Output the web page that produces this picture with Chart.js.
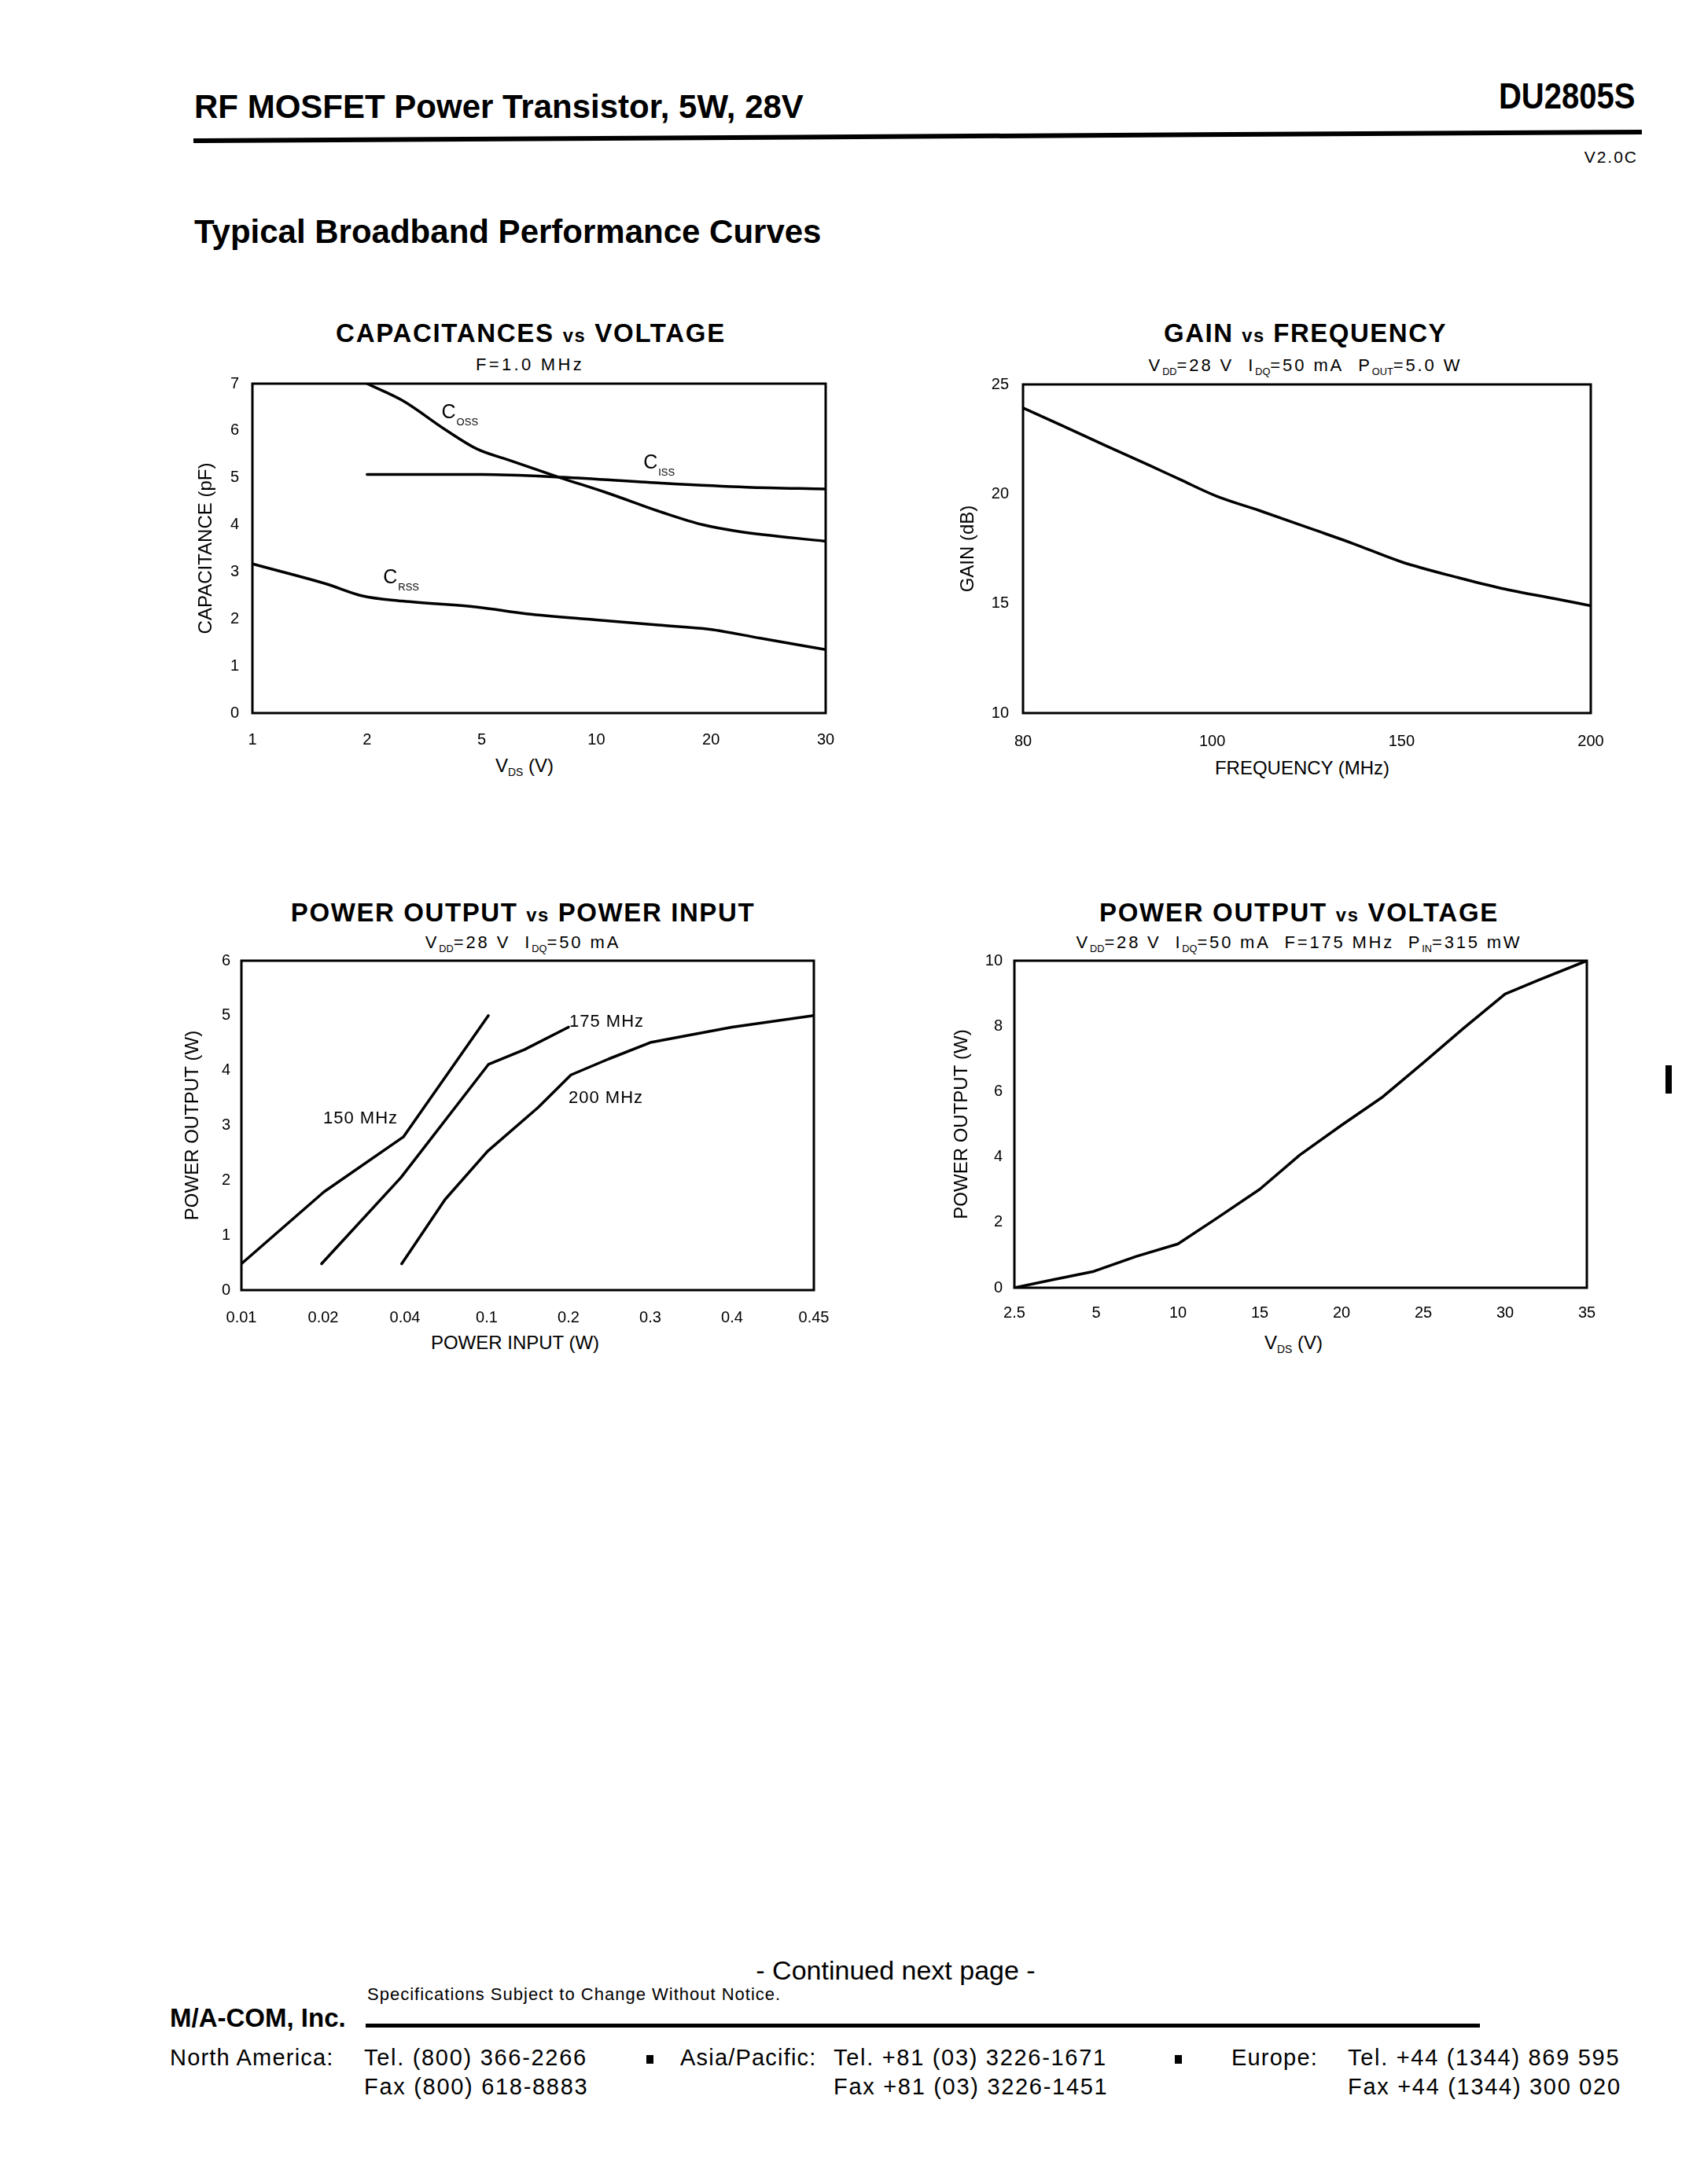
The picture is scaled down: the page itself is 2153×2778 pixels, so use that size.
<!DOCTYPE html>
<html><head><meta charset="utf-8">
<script src="https://cdn.jsdelivr.net/npm/chart.js@4"></script>
<style>
html,body{margin:0;padding:0;background:#fff;}
body{width:2153px;height:2778px;position:relative;overflow:hidden;font-family:'Liberation Sans',Arial,sans-serif;color:#000;}
.t{position:absolute;white-space:nowrap;line-height:1;}
.t sub{font-size:0.58em;vertical-align:baseline;position:relative;top:0.38em;line-height:0;letter-spacing:0;}
.vs{font-size:0.72em;}
canvas{position:absolute;}
.bar{position:absolute;background:#000;}
</style></head><body>
<script>
// ---------------- DATA ----------------
// Capacitances vs Voltage (x in tick-index units of the evenly spaced axis 1,2,5,10,20,30)
const capXTicks = ['1','2','5','10','20','30'];
const cossX = [1.0, 1.31, 1.69, 1.96, 2.23, 2.70, 3.08, 3.58, 3.93, 4.24, 5.0];
const cossY = [7.0, 6.64, 6.01, 5.61, 5.38, 4.99, 4.69, 4.26, 4.0, 3.86, 3.65];
const cissX = [1.0, 2.0, 2.70, 3.54, 4.31, 5.0];
const cissY = [5.07, 5.07, 5.01, 4.89, 4.80, 4.76];
const crssX = [0, 0.31, 0.65, 0.96, 1.31, 1.96, 2.39, 3.0, 3.54, 3.99, 4.43, 5.0];
const crssY = [3.17, 2.97, 2.74, 2.49, 2.38, 2.25, 2.11, 1.98, 1.87, 1.78, 1.59, 1.35];

// Gain vs Frequency (axis 80,100,150,200 evenly spaced)
const gainXTicks = ['80','100','150','200'];
const gainX = [0, 0.2, 0.43, 0.67, 0.83, 1.02, 1.25, 1.53, 1.74, 2.0, 2.3, 2.53, 2.81, 3.0];
const gainY = [23.93, 23.15, 22.23, 21.3, 20.66, 19.91, 19.24, 18.39, 17.75, 16.9, 16.18, 15.69, 15.22, 14.9];

// Power output vs Power input (axis 0.01 ... 0.45 evenly spaced)
const pinXTicks = ['0.01','0.02','0.04','0.1','0.2','0.3','0.4','0.45'];
const p150X = [0, 1.01, 1.98, 3.02];
const p150Y = [0.48, 1.79, 2.79, 5.0];
const p175X = [0.98, 1.95, 3.02, 3.46, 4.0];
const p175Y = [0.48, 2.05, 4.11, 4.38, 4.79];
const p200X = [1.96, 2.49, 3.01, 3.63, 4.03, 4.49, 5.0, 5.46, 6.0, 7.0];
const p200Y = [0.48, 1.65, 2.53, 3.33, 3.92, 4.21, 4.51, 4.64, 4.79, 5.0];

// Power output vs Voltage (axis 2.5,5,...,35 evenly spaced)
const vdsXTicks = ['2.5','5','10','15','20','25','30','35'];
const voutX = [0, 0.46, 0.97, 1.49, 2.0, 2.46, 3.0, 3.49, 4.0, 4.49, 5.0, 5.49, 6.0, 6.41, 7.0];
const voutY = [0, 0.24, 0.5, 0.96, 1.34, 2.1, 3.01, 4.06, 4.97, 5.81, 6.88, 7.93, 8.98, 9.41, 10.0];

// curve label texts
const capLabelText = ['C','C','C'];
const capLabelSub = ['OSS','ISS','RSS'];
const pinLabelText = ['150 MHz','175 MHz','200 MHz'];
</script>
<script>
const FAMILY = "'Liberation Sans', Arial, Helvetica, sans-serif";
Chart.defaults.font.family = FAMILY;
Chart.defaults.color = '#000';

function T(html, x, base, size, o = {}) {
  const d = document.createElement('div');
  d.className = 't';
  d.innerHTML = html;
  d.style.fontSize = size + 'px';
  d.style.top = (base - 0.8465 * size) + 'px';
  if (o.bold) d.style.fontWeight = 'bold';
  if (o.ls) d.style.letterSpacing = o.ls + 'px';
  let tf = '';
  if (o.align === 'center') { d.style.left = x + 'px'; tf += 'translateX(-50%) '; }
  else if (o.align === 'right') { d.style.right = (2153 - x) + 'px'; }
  else d.style.left = x + 'px';
  if (o.sx) { tf += 'scaleX(' + o.sx + ')'; d.style.transformOrigin = o.align === 'right' ? 'right center' : 'left center'; }
  if (tf) d.style.transform = tf;
  document.body.appendChild(d);
  return d;
}
function bar(l, t, w, h, rot) {
  const d = document.createElement('div');
  d.className = 'bar';
  d.style.left = l + 'px'; d.style.top = t + 'px'; d.style.width = w + 'px'; d.style.height = h + 'px';
  if (rot) { d.style.transformOrigin = 'left center'; d.style.transform = 'rotate(' + rot + 'deg)'; }
  document.body.appendChild(d);
}

// ---------- page header ----------
T('RF MOSFET Power Transistor, 5W, 28V', 247, 151, 42, {bold: true});
T('DU2805S', 2079, 138, 46, {bold: true, align: 'right', sx: 0.87});
bar(246, 175.5, 1842, 6, -0.3425);
T('V2.0C', 2083, 207, 21, {align: 'right', ls: 2});
T('Typical Broadband Performance Curves', 247, 310, 42, {bold: true});

// ---------- chart titles ----------
T('CAPACITANCES <span class="vs">vs</span> VOLTAGE', 675, 435, 33, {bold: true, align: 'center', ls: 1.7});
T('F=1.0 MHz', 674, 472, 22, {align: 'center', ls: 3.3});
T('GAIN <span class="vs">vs</span> FREQUENCY', 1660, 435, 33, {bold: true, align: 'center', ls: 1.5});
T('V<sub>DD</sub>=28 V&nbsp; I<sub>DQ</sub>=50 mA&nbsp; P<sub>OUT</sub>=5.0 W', 1660, 473, 22, {align: 'center', ls: 2.9});
T('POWER OUTPUT <span class="vs">vs</span> POWER INPUT', 665, 1172, 33, {bold: true, align: 'center', ls: 1.6});
T('V<sub>DD</sub>=28 V&nbsp; I<sub>DQ</sub>=50 mA', 665, 1207, 22, {align: 'center', ls: 2.9});
T('POWER OUTPUT <span class="vs">vs</span> VOLTAGE', 1652, 1172, 33, {bold: true, align: 'center', ls: 1.7});
T('V<sub>DD</sub>=28 V&nbsp; I<sub>DQ</sub>=50 mA&nbsp; F=175 MHz&nbsp; P<sub>IN</sub>=315 mW', 1652, 1207, 22, {align: 'center', ls: 2.8});

// ---------- x-axis titles ----------
T('V<sub>DS</sub> (V)', 667, 982, 24, {align: 'center'});
T('FREQUENCY (MHz)', 1656, 985, 24, {align: 'center'});
T('POWER INPUT (W)', 655, 1716, 24, {align: 'center'});
T('V<sub>DS</sub> (V)', 1645, 1716, 24, {align: 'center'});

// ---------- footer ----------
T('- Continued next page -', 1139, 2518, 34, {align: 'center'});
T('Specifications Subject to Change Without Notice.', 467, 2545, 22, {ls: 1});
T('M/A-COM, Inc.', 216, 2578, 33, {bold: true});
bar(465, 2574, 1417, 5);
T('North America:', 216, 2628, 29, {ls: 1.2});
T('Tel. (800) 366-2266', 463, 2628, 29, {ls: 1.7});
T('Fax (800) 618-8883', 463, 2665, 29, {ls: 1.7});
bar(822, 2614, 9, 11);
T('Asia/Pacific:', 865, 2628, 29, {ls: 1.2});
T('Tel. +81 (03) 3226-1671', 1060, 2628, 29, {ls: 1.7});
T('Fax +81 (03) 3226-1451', 1060, 2665, 29, {ls: 1.7});
bar(1494, 2614, 9, 11);
T('Europe:', 1566, 2628, 29, {ls: 1.2});
T('Tel. +44 (1344) 869 595', 1714, 2628, 29, {ls: 1.7});
T('Fax +44 (1344) 300 020', 1714, 2665, 29, {ls: 1.7});
bar(2118, 1355, 8, 36);

// ---------- chart helpers ----------
const framePlugin = {
  id: 'frame',
  afterDatasetsDraw(chart) {
    const {ctx, chartArea: a} = chart;
    ctx.save();
    ctx.strokeStyle = '#000';
    ctx.lineWidth = 3;
    ctx.strokeRect(a.left, a.top, a.right - a.left, a.bottom - a.top);
    ctx.restore();
  }
};
const labelPlugin = {
  id: 'curveLabels',
  afterDatasetsDraw(chart, args, opts) {
    if (!opts || !opts.items) return;
    const {ctx} = chart;
    const xs = chart.scales.x, ys = chart.scales.y;
    ctx.save();
    ctx.fillStyle = '#000';
    ctx.textBaseline = 'alphabetic';
    ctx.textAlign = 'left';
    for (const it of opts.items) {
      const px = xs.getPixelForValue(it.x), py = ys.getPixelForValue(it.y);
      ctx.font = opts.size + 'px ' + FAMILY;
      if ('letterSpacing' in ctx) ctx.letterSpacing = (opts.ls || 0) + 'px';
      ctx.fillText(it.text, px, py);
      if (it.sub) {
        const w = ctx.measureText(it.text).width;
        ctx.font = opts.subSize + 'px ' + FAMILY;
        ctx.fillText(it.sub, px + w + 1, py + opts.subDy);
      }
    }
    ctx.restore();
  }
};

function pts(xs, ys) { return xs.map((x, i) => ({x: x, y: ys[i]})); }

function makeChart(g) {
  const cv = document.createElement('canvas');
  const padTop = 30, padRight = 50, xH = 60;
  const w = g.W + (g.R - g.L) + padRight;
  const h = padTop + (g.B - g.T) + xH;
  cv.width = w; cv.height = h;
  cv.style.width = w + 'px'; cv.style.height = h + 'px';
  cv.style.left = (g.L - g.W) + 'px';
  cv.style.top = (g.T - padTop) + 'px';
  document.body.appendChild(cv);
  const xl = g.xTicks;
  new Chart(cv.getContext('2d'), {
    type: 'line',
    data: {datasets: g.datasets.map(d => ({
      data: d.data,
      borderColor: '#000',
      borderWidth: 3.5,
      pointRadius: 0,
      fill: false,
      tension: d.smooth ? 0.4 : 0,
      cubicInterpolationMode: d.smooth ? 'monotone' : 'default',
      borderCapStyle: 'round',
      borderJoinStyle: 'round'
    }))},
    options: {
      responsive: false,
      animation: false,
      devicePixelRatio: 1,
      layout: {padding: {top: padTop, right: padRight, left: 0, bottom: 0}},
      plugins: {
        legend: {display: false},
        tooltip: {enabled: false},
        curveLabels: g.labels || {}
      },
      scales: {
        x: {
          type: 'linear', min: 0, max: xl.length - 1,
          grid: {display: false, drawTicks: false}, border: {display: false},
          ticks: {stepSize: 1, autoSkip: false, maxRotation: 0, minRotation: 0,
                  padding: g.xPad, color: '#000', font: {size: 20},
                  callback: (v) => (Number.isInteger(v) ? xl[v] : '')},
          afterFit: (s) => { s.height = xH; }
        },
        y: {
          type: 'linear', min: g.yMin, max: g.yMax,
          grid: {display: false, drawTicks: false}, border: {display: false},
          ticks: {stepSize: g.yStep, padding: g.yPad, color: '#000', font: {size: 20}},
          title: {display: true, text: g.yTitle, color: '#000', font: {size: 24}, padding: 0},
          afterFit: (s) => { s.width = g.W; }
        }
      }
    },
    plugins: [framePlugin, labelPlugin]
  });
}

// Chart 1: Capacitances vs Voltage
makeChart({
  L: 321, R: 1050, T: 488, B: 907, W: 73, xPad: 22, yPad: 17,
  xTicks: capXTicks, yMin: 0, yMax: 7, yStep: 1, yTitle: 'CAPACITANCE (pF)',
  datasets: [
    {data: pts(cossX, cossY), smooth: true},
    {data: pts(cissX, cissY), smooth: true},
    {data: pts(crssX, crssY), smooth: true}
  ],
  labels: {size: 25, subSize: 13, subDy: 9, ls: 0, items: [
    {text: capLabelText[0], sub: capLabelSub[0], x: 1.65, y: 6.27},
    {text: capLabelText[1], sub: capLabelSub[1], x: 3.41, y: 5.2},
    {text: capLabelText[2], sub: capLabelSub[2], x: 1.14, y: 2.75}
  ]}
});

// Chart 2: Gain vs Frequency
makeChart({
  L: 1301, R: 2023, T: 489, B: 907, W: 84, xPad: 24, yPad: 18,
  xTicks: gainXTicks, yMin: 10, yMax: 25, yStep: 5, yTitle: 'GAIN (dB)',
  datasets: [{data: pts(gainX, gainY), smooth: true}]
});

// Chart 3: Power output vs Power input
makeChart({
  L: 307, R: 1035, T: 1222, B: 1641, W: 76, xPad: 23, yPad: 14,
  xTicks: pinXTicks, yMin: 0, yMax: 6, yStep: 1, yTitle: 'POWER OUTPUT (W)',
  datasets: [
    {data: pts(p150X, p150Y), smooth: false},
    {data: pts(p175X, p175Y), smooth: false},
    {data: pts(p200X, p200Y), smooth: false}
  ],
  labels: {size: 22, subSize: 13, subDy: 0, ls: 1, items: [
    {text: pinLabelText[0], x: 1.0, y: 3.04},
    {text: pinLabelText[1], x: 4.01, y: 4.79},
    {text: pinLabelText[2], x: 4.0, y: 3.41}
  ]}
});

// Chart 4: Power output vs Voltage
makeChart({
  L: 1290, R: 2018, T: 1222, B: 1638, W: 81, xPad: 20, yPad: 15,
  xTicks: vdsXTicks, yMin: 0, yMax: 10, yStep: 2, yTitle: 'POWER OUTPUT (W)',
  datasets: [{data: pts(voutX, voutY), smooth: false}]
});
</script>
</body></html>
